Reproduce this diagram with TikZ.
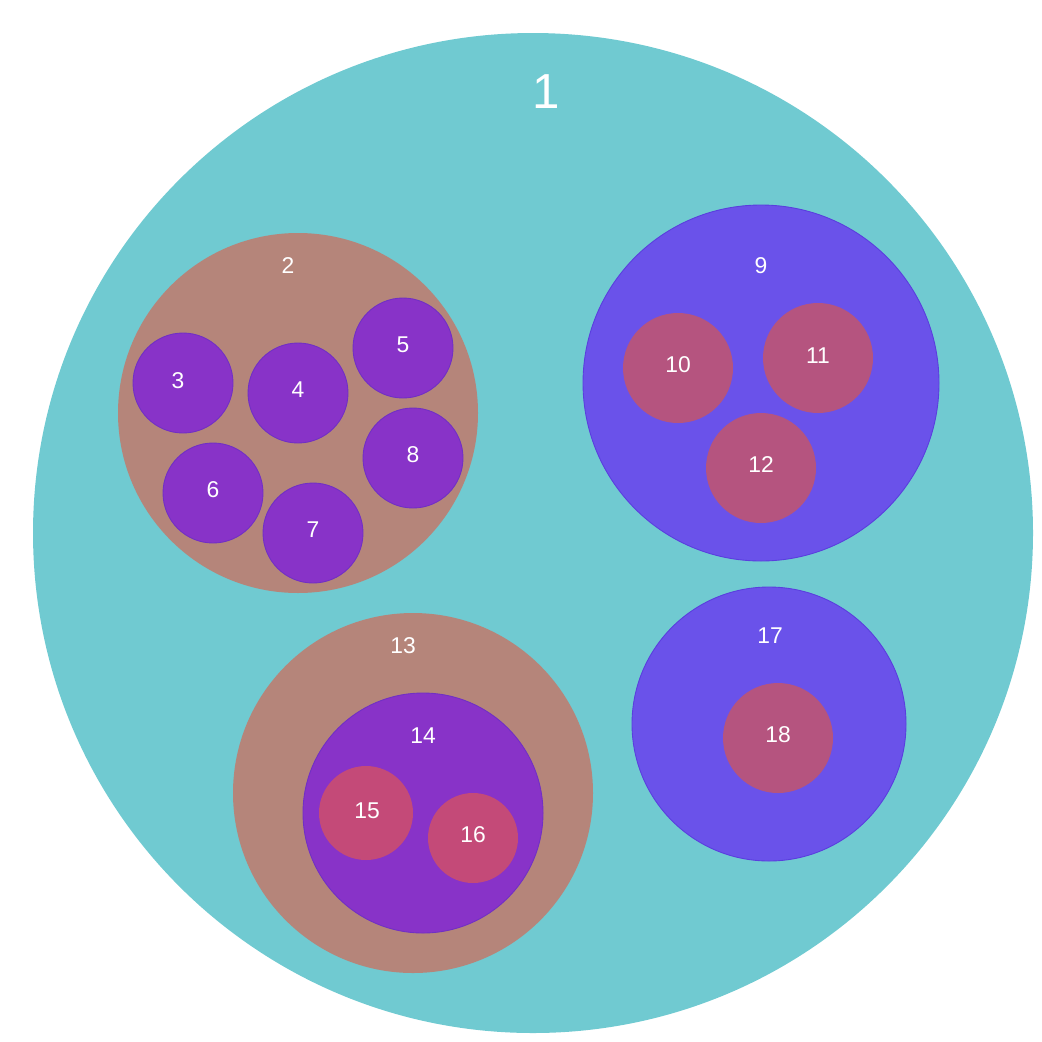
\documentclass[tikz,border=0pt]{standalone}
\usepackage{fontspec}
\setmainfont{Liberation Sans}
\usepackage{tikz}
\usepackage{xcolor}
\definecolor{rootteal}{HTML}{70CAD1}
\definecolor{groupbrown}{HTML}{B5857A}
\definecolor{leafpurple}{HTML}{8833C8}
\definecolor{groupblue}{HTML}{6A52EA}
\definecolor{leafrose}{HTML}{B5547F}
\definecolor{leafpink}{HTML}{C44A78}
\definecolor{rimpurple}{HTML}{7030C4}
\definecolor{rimblue}{HTML}{5A3EDE}

\begin{document}
\begin{tikzpicture}[x=0.1mm, y=-0.1mm,
    bub/.style={circle, inner sep=0pt, minimum size=#1*0.2mm},
    rimmed/.style={draw=#1, line width=0.25pt},
    lbl/.style={text=white, inner sep=0pt, font=\fontsize{6.5}{7.5}\selectfont}]
  \useasboundingbox (0,0) rectangle (1042,1041);
            % Root circle
            \node[bub=500, fill=rootteal] (c1) at (533,533) {};
            % Left group with six leaves
            \node[bub=180, fill=groupbrown] (c2) at (298,413) {};
            \node[bub=50, fill=leafpurple, rimmed=rimpurple] (c3) at (183,383) {};
            \node[bub=50, fill=leafpurple, rimmed=rimpurple] (c4) at (298,393) {};
            \node[bub=50, fill=leafpurple, rimmed=rimpurple] (c5) at (403,348) {};
            \node[bub=50, fill=leafpurple, rimmed=rimpurple] (c6) at (213,493) {};
            \node[bub=50, fill=leafpurple, rimmed=rimpurple] (c7) at (313,533) {};
            \node[bub=50, fill=leafpurple, rimmed=rimpurple] (c8) at (413,458) {};
            % Right group with three leaves
            \node[bub=178, fill=groupblue, rimmed=rimblue] (c9) at (761,383) {};
            \node[bub=55, fill=leafrose] (c10) at (678,368) {};
            \node[bub=55, fill=leafrose] (c11) at (818,358) {};
            \node[bub=55, fill=leafrose] (c12) at (761,468) {};
            % Bottom group, nested
            \node[bub=180, fill=groupbrown] (c13) at (413,793) {};
            \node[bub=120, fill=leafpurple, rimmed=rimpurple] (c14) at (423,813) {};
            \node[bub=47, fill=leafpink] (c15) at (366,813) {};
            \node[bub=45, fill=leafpink] (c16) at (473,838) {};
            % Lower right group
            \node[bub=137, fill=groupblue, rimmed=rimblue] (c17) at (769,724) {};
            \node[bub=55, fill=leafrose] (c18) at (778,738) {};
            % Labels
            \node[lbl, font=\fontsize{14}{16}\selectfont] (t1) at (546,92) {1};
            \node[lbl] (t2) at (288,266) {2};
            \node[lbl] (t3) at (178,381) {3};
            \node[lbl] (t4) at (298,390) {4};
            \node[lbl] (t5) at (403,345) {5};
            \node[lbl] (t6) at (213,490) {6};
            \node[lbl] (t7) at (313,530) {7};
            \node[lbl] (t8) at (413,455) {8};
            \node[lbl] (t9) at (761,266) {9};
            \node[lbl] (t10) at (678,365) {10};
            \node[lbl] (t11) at (818,356) {11};
            \node[lbl] (t12) at (761,465) {12};
            \node[lbl] (t13) at (403,646) {13};
            \node[lbl] (t14) at (423,736) {14};
            \node[lbl] (t15) at (367,811) {15};
            \node[lbl] (t16) at (473,835) {16};
            \node[lbl] (t17) at (770,636) {17};
            \node[lbl] (t18) at (778,735) {18};
\end{tikzpicture}
\end{document}
